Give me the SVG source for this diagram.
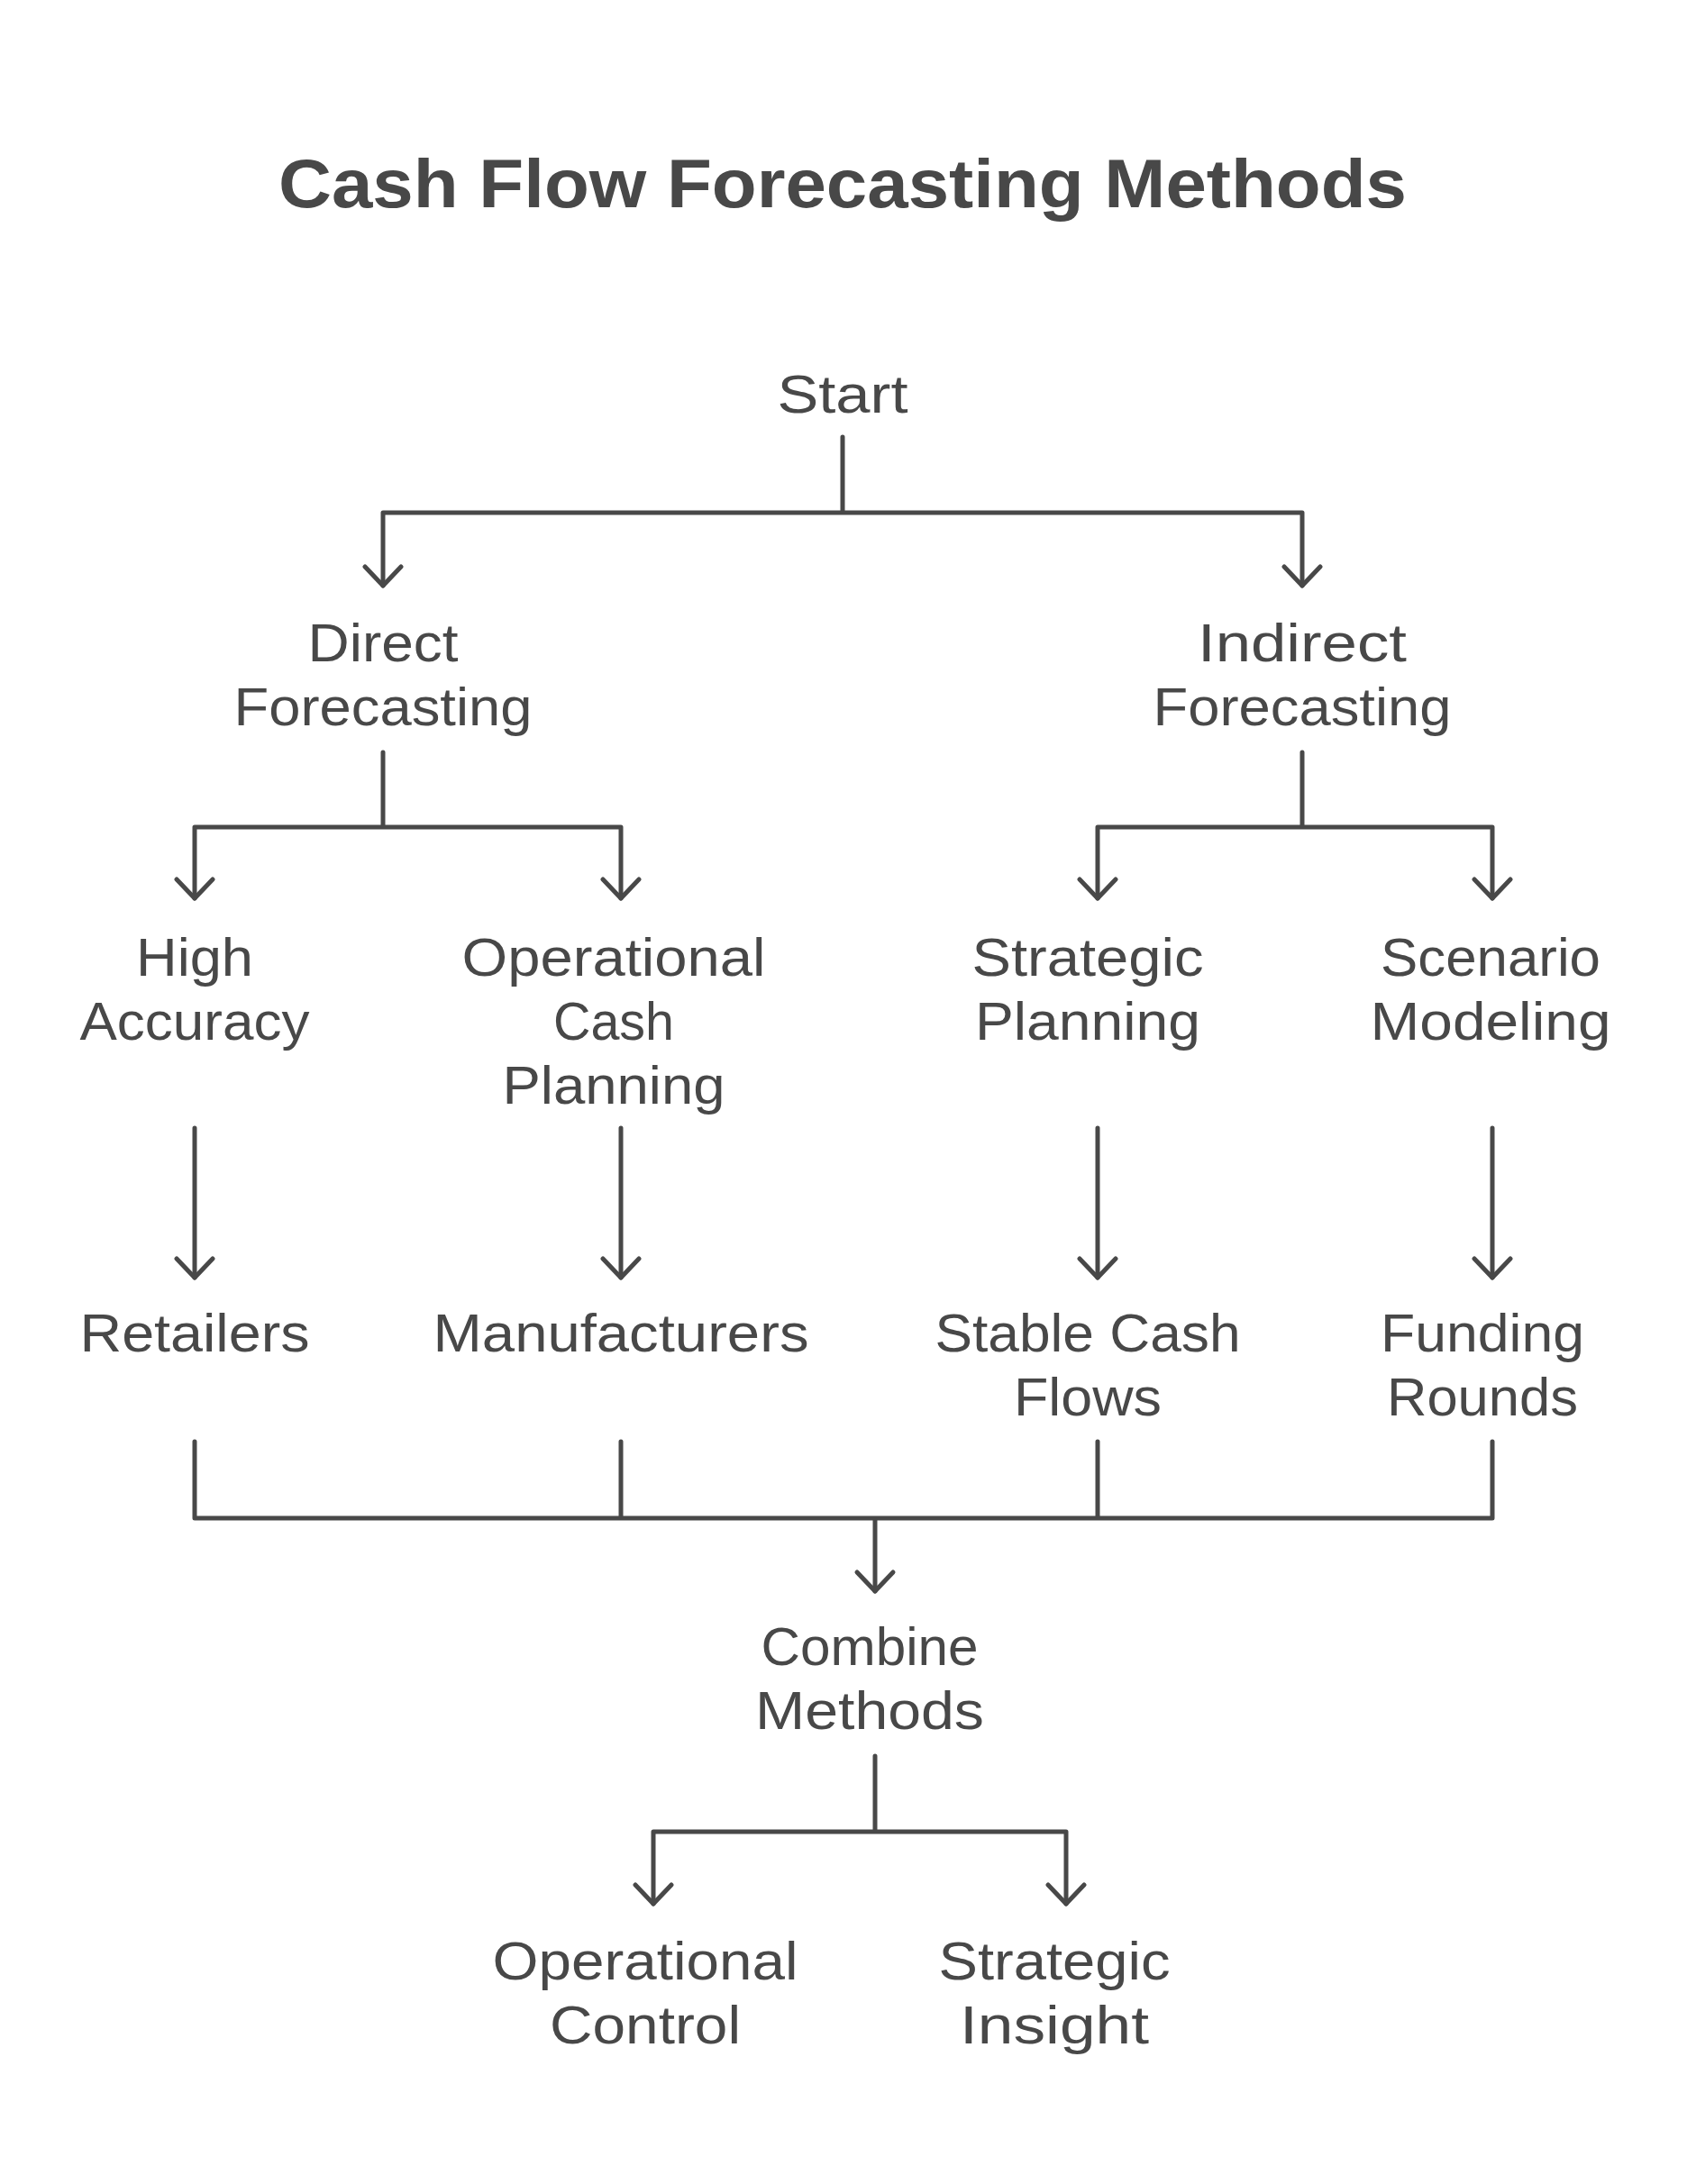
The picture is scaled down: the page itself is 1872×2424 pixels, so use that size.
<svg xmlns="http://www.w3.org/2000/svg" width="1872" height="2424" viewBox="0 0 1872 2424">
<defs>
<style>
.t{font-family:"Liberation Sans",Arial,sans-serif;font-size:60px;fill:#484848;text-anchor:middle}
.title{font-family:"Liberation Sans",Arial,sans-serif;font-size:76px;font-weight:bold;fill:#484848;text-anchor:middle}
.c{fill:none;stroke:#484848;stroke-width:5;stroke-linecap:round;stroke-linejoin:round}
</style>
</defs>
<rect width="1872" height="2424" fill="#ffffff"/>
<g id="title"><text class="title" x="935" y="230" textLength="1252" lengthAdjust="spacingAndGlyphs">Cash Flow Forecasting Methods</text></g>
<g id="connectors">
<path class="c" d="M935,485 V569 M425,569 H1445 M425,569 V650 M1445,569 V650"/>
<path class="c" d="M405,629 L425,650 L445,629 M1425,629 L1445,650 L1465,629"/>
<path class="c" d="M425,835 V918 M216,918 H689 M216,918 V997 M689,918 V997"/>
<path class="c" d="M1445,835 V918 M1218,918 H1656 M1218,918 V997 M1656,918 V997"/>
<path class="c" d="M196,976 L216,997 L236,976 M669,976 L689,997 L709,976 M1198,976 L1218,997 L1238,976 M1636,976 L1656,997 L1676,976"/>
<path class="c" d="M216,1252 V1418 M689,1252 V1418 M1218,1252 V1418 M1656,1252 V1418"/>
<path class="c" d="M196,1397 L216,1418 L236,1397 M669,1397 L689,1418 L709,1397 M1198,1397 L1218,1418 L1238,1397 M1636,1397 L1656,1418 L1676,1397"/>
<path class="c" d="M216,1600 V1685 M689,1600 V1685 M1218,1600 V1685 M1656,1600 V1685 M216,1685 H1656 M971,1685 V1766"/>
<path class="c" d="M951,1745 L971,1766 L991,1745"/>
<path class="c" d="M971,1949 V2033 M725,2033 H1183 M725,2033 V2113 M1183,2033 V2113"/>
<path class="c" d="M705,2092 L725,2113 L745,2092 M1163,2092 L1183,2113 L1203,2092"/>
</g>
<g id="start"><text class="t" x="935" y="458" textLength="145" lengthAdjust="spacingAndGlyphs">Start</text></g>
<g id="direct"><text class="t" x="425" y="734" textLength="167" lengthAdjust="spacingAndGlyphs">Direct</text><text class="t" x="425" y="805" textLength="331" lengthAdjust="spacingAndGlyphs">Forecasting</text></g>
<g id="indirect"><text class="t" x="1445" y="734" textLength="232" lengthAdjust="spacingAndGlyphs">Indirect</text><text class="t" x="1445" y="805" textLength="331" lengthAdjust="spacingAndGlyphs">Forecasting</text></g>
<g id="high-accuracy"><text class="t" x="216" y="1083" textLength="130" lengthAdjust="spacingAndGlyphs">High</text><text class="t" x="216" y="1154" textLength="255" lengthAdjust="spacingAndGlyphs">Accuracy</text></g>
<g id="operational-cash-planning"><text class="t" x="681" y="1083" textLength="337" lengthAdjust="spacingAndGlyphs">Operational</text><text class="t" x="681" y="1154" textLength="134" lengthAdjust="spacingAndGlyphs">Cash</text><text class="t" x="681" y="1225" textLength="247" lengthAdjust="spacingAndGlyphs">Planning</text></g>
<g id="strategic-planning"><text class="t" x="1207" y="1083" textLength="257" lengthAdjust="spacingAndGlyphs">Strategic</text><text class="t" x="1207" y="1154" textLength="250" lengthAdjust="spacingAndGlyphs">Planning</text></g>
<g id="scenario-modeling"><text class="t" x="1654" y="1083" textLength="244" lengthAdjust="spacingAndGlyphs">Scenario</text><text class="t" x="1654" y="1154" textLength="267" lengthAdjust="spacingAndGlyphs">Modeling</text></g>
<g id="retailers"><text class="t" x="216" y="1500" textLength="255" lengthAdjust="spacingAndGlyphs">Retailers</text></g>
<g id="manufacturers"><text class="t" x="689" y="1500" textLength="417" lengthAdjust="spacingAndGlyphs">Manufacturers</text></g>
<g id="stable-cash-flows"><text class="t" x="1207" y="1500" textLength="339" lengthAdjust="spacingAndGlyphs">Stable Cash</text><text class="t" x="1207" y="1571" textLength="164" lengthAdjust="spacingAndGlyphs">Flows</text></g>
<g id="funding-rounds"><text class="t" x="1645" y="1500" textLength="226" lengthAdjust="spacingAndGlyphs">Funding</text><text class="t" x="1645" y="1571" textLength="212" lengthAdjust="spacingAndGlyphs">Rounds</text></g>
<g id="combine-methods"><text class="t" x="965" y="1848" textLength="241" lengthAdjust="spacingAndGlyphs">Combine</text><text class="t" x="965" y="1919" textLength="254" lengthAdjust="spacingAndGlyphs">Methods</text></g>
<g id="operational-control"><text class="t" x="716" y="2197" textLength="339" lengthAdjust="spacingAndGlyphs">Operational</text><text class="t" x="716" y="2268" textLength="212" lengthAdjust="spacingAndGlyphs">Control</text></g>
<g id="strategic-insight"><text class="t" x="1170" y="2197" textLength="257" lengthAdjust="spacingAndGlyphs">Strategic</text><text class="t" x="1170" y="2268" textLength="210" lengthAdjust="spacingAndGlyphs">Insight</text></g>
</svg>
